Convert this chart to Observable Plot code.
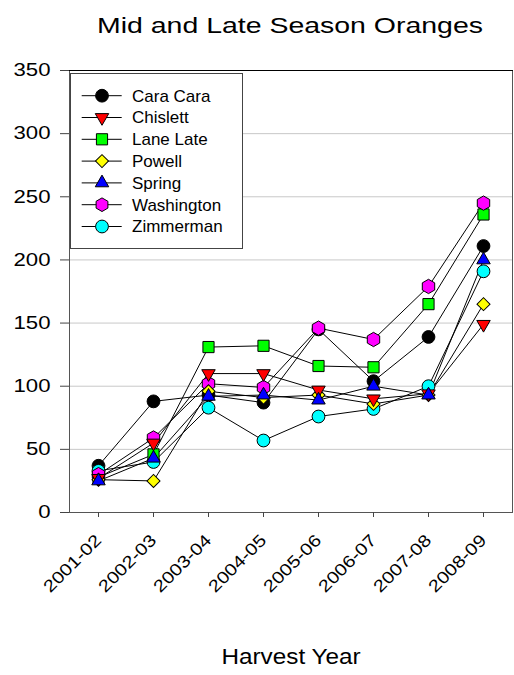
<!DOCTYPE html>
<html><head><meta charset="utf-8">
<script src="https://cdn.jsdelivr.net/npm/d3@7"></script>
<script src="https://cdn.jsdelivr.net/npm/@observablehq/plot@0.6"></script>
<style>
body{margin:0;background:#fff;}
svg{font-family:"Liberation Sans",Arial,sans-serif;}
</style>
</head><body><div id="chart"></div>
<script>
const years = ["2001-02","2002-03","2003-04","2004-05","2005-06","2006-07","2007-08","2008-09"];
const series = ["Cara Cara","Chislett","Lane Late","Powell","Spring","Washington","Zimmerman"];
const caraCara   = [37, 88, 93, 87, 145, 104, 139, 211];
const chislett   = [27, 55, 110, 110, 97, 90, 94, 149];
const laneLate   = [28, 46, 131, 132, 116, 115, 165, 236];
const powell     = [26, 25, 96, 91, 93, 86, 93, 165];
const spring     = [25, 43, 92, 93, 89, 100, 93, 200];
const washington = [30, 59, 102, 99, 146, 137, 179, 245];
const zimmerman  = [33, 40, 83, 57, 76, 82, 100, 191];
const values = [caraCara, chislett, laneLate, powell, spring, washington, zimmerman];
const colors = ["#000000","#ff0000","#00ff00","#ffff00","#0000ff","#ff00ff","#00ffff"];
const symbols = ["circle","triangle","square","square","triangle","hexagon","circle"];
const rotations = [0,180,0,45,0,0,0];
const sizes = [6.4,5.0,6.3,5.2,5.0,6.2,6.4];
const yTicks = [0,50,100,150,200,250,300,350];
const gridValues = [50,100,150,200,250,300];
const titleText = "Mid and Late Season Oranges";
const xLabel = "Harvest Year";

const data = series.flatMap((s,i)=> values[i].map((v,j)=>({series:s, idx:i, year:years[j], value:v})));

const plot = Plot.plot({
  width:514, height:675,
  marginLeft:69, marginRight:2, marginTop:70, marginBottom:163,
  style:{fontFamily:"Liberation Sans, Arial, sans-serif", fontSize:"17px", color:"#000", background:"#fff", overflow:"visible"},
  x:{type:"point", domain:years, padding:0.5, label:null},
  y:{domain:[0,350], label:null},
  symbol:{domain:series, range:symbols},
  color:{domain:series, range:colors},
  r:{type:"identity"},
  marks:[
    Plot.ruleY(gridValues, {stroke:"#c8c8c8", strokeWidth:1}),
    Plot.frame({stroke:"#555"}),
    Plot.frame({anchor:"top", stroke:"#000"}),
    Plot.axisY({ticks:yTicks, tickSize:9, tickPadding:10, fontSize:18, label:null, stroke:"#444"}),
    Plot.axisX({tickSize:5, tickRotate:-45, tickPadding:20, fontSize:17, label:null, stroke:"#444"}),
    Plot.line(data, {x:"year", y:"value", z:"series", stroke:"#000", strokeWidth:1}),
    Plot.dot(data, {x:"year", y:"value", symbol:"series", fill:"series", stroke:"#000", strokeWidth:1,
      r:d=>sizes[d.idx], rotate:d=>rotations[d.idx]})
  ]
});
document.getElementById("chart").append(plot);
const svg = d3.select(plot);

function stretch(sel,k){
  sel.each(function(){
    const L = this.getComputedTextLength();
    this.setAttribute("textLength", L*k);
    this.setAttribute("lengthAdjust","spacingAndGlyphs");
  });
}
stretch(svg.selectAll('g[aria-label="y-axis tick label"] text'), 1.23);
stretch(svg.selectAll('g[aria-label="x-axis tick label"] text'), 1.18);

// Title and axis label
svg.append("text").attr("x",290).attr("y",33).attr("text-anchor","middle")
  .attr("font-size",22).attr("fill","#000").attr("textLength",386).attr("lengthAdjust","spacingAndGlyphs").text(titleText);
svg.append("text").attr("x",291).attr("y",664).attr("text-anchor","middle")
  .attr("font-size",22).attr("fill","#000").attr("textLength",139).attr("lengthAdjust","spacingAndGlyphs").text(xLabel);

// Legend
const lg = svg.append("g").attr("text-anchor","start");
lg.append("rect").attr("x",70.5).attr("y",73.5).attr("width",172).attr("height",175)
  .attr("fill","#fff").attr("stroke","#444");
function hexPath(r){
  const rr = r*Math.sqrt(2*Math.PI/(3*Math.sqrt(3)));
  const pts = d3.range(6).map(k=>{const a=(-90+60*k)*Math.PI/180; return [rr*Math.cos(a), rr*Math.sin(a)];});
  return "M"+pts.map(p=>p.join(",")).join("L")+"Z";
}
const d3sym = {circle:d3.symbolCircle, triangle:d3.symbolTriangle, square:d3.symbolSquare};
series.forEach((s,i)=>{
  const y = 95.7 + 21.8*i;
  lg.append("line").attr("x1",81.7).attr("x2",121.7).attr("y1",y).attr("y2",y).attr("stroke","#000");
  const r = sizes[i];
  const p = symbols[i]==="hexagon" ? hexPath(r) : d3.symbol(d3sym[symbols[i]], Math.PI*r*r)();
  lg.append("path").attr("d",p).attr("transform",`translate(102,${y}) rotate(${rotations[i]})`)
    .attr("fill",colors[i]).attr("stroke","#000");
  lg.append("text").attr("x",132).attr("y",y).attr("dy","0.35em").attr("font-size",17)
    .attr("text-anchor","start").attr("fill","#000").text(s);
});
</script>
</body></html>
